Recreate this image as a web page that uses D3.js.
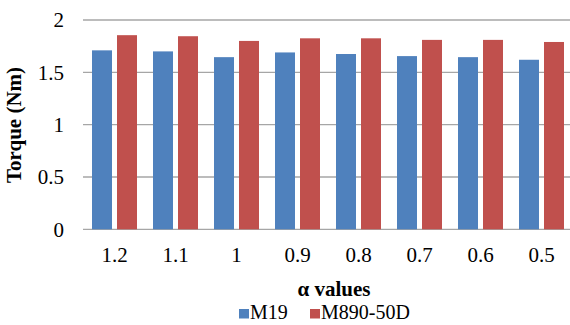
<!DOCTYPE html>
<html>
<head>
<meta charset="utf-8">
<script src="https://cdn.jsdelivr.net/npm/d3@7"></script>
<style>
  html, body { margin: 0; padding: 0; background: #fff; }
  svg { display: block; }
  text { font-family: "Liberation Serif", "Times New Roman", serif; fill: #000; }
</style>
</head>
<body>
<svg id="chart" width="570" height="325"></svg>
<script>
// Torque per alpha value for the two lamination steels
const categories = ["1.2", "1.1", "1", "0.9", "0.8", "0.7", "0.6", "0.5"];
const seriesNames = ["M19", "M890-50D"];
const m19 = [1.71, 1.70, 1.645, 1.69, 1.675, 1.655, 1.645, 1.62];
const m890 = [1.855, 1.845, 1.80, 1.825, 1.825, 1.81, 1.81, 1.79];
const yTicks = [0, 0.5, 1, 1.5, 2];
const colors = ["#4F81BD", "#C0504D"];

const svg = d3.select("#chart");
const W = 570;
const plotLeft = 84, plotBottom = 229.3, plotTop = 20;

const x = d3.scaleBand().domain(categories).range([plotLeft, 572]).paddingInner(0).paddingOuter(0);
const y = d3.scaleLinear().domain([0, 2]).range([plotBottom, plotTop]);

// Horizontal gridlines
svg.append("g")
  .selectAll("line")
  .data(yTicks)
  .join("line")
  .attr("x1", 83).attr("x2", W)
  .attr("y1", d => y(d)).attr("y2", d => y(d))
  .attr("stroke", "#A6A6A6")
  .attr("stroke-width", 1.3);

// Bars: each bar is 20/61 of the band, bars inside a group separated by a quarter bar width
const band = x.bandwidth();
const barW = band * 20 / 61;
const innerGap = barW * 0.25;
const groupW = barW * 2 + innerGap;
const series = [m19, m890];

series.forEach((vals, si) => {
  svg.append("g")
    .selectAll("rect")
    .data(vals.map((v, i) => ({ cat: categories[i], v })))
    .join("rect")
    .attr("x", d => x(d.cat) + (band - groupW) / 2 + si * (barW + innerGap))
    .attr("y", d => y(d.v))
    .attr("width", barW)
    .attr("height", d => y(0) - y(d.v))
    .attr("fill", colors[si]);
});

// Y axis labels
const yAxis = d3.axisLeft(y).tickValues(yTicks).tickFormat(d3.format("~g")).tickSize(0).tickPadding(0);
const yg = svg.append("g").attr("transform", "translate(64,0)").call(yAxis);
yg.select(".domain").remove();
yg.selectAll("text").style("font-family", "Liberation Serif, serif").style("font-size", "21px").attr("fill", "#000");

// X axis labels
const xAxis = d3.axisBottom(x).tickSize(0).tickPadding(0);
const xg = svg.append("g").attr("transform", `translate(0,${plotBottom})`).call(xAxis);
xg.select(".domain").remove();
xg.selectAll("text").style("font-family", "Liberation Serif, serif").style("font-size", "21px")
  .attr("fill", "#000").attr("dy", null).attr("y", 32.5);

// Axis titles
svg.append("text")
  .attr("x", 334).attr("y", 296)
  .attr("text-anchor", "middle")
  .style("font-size", "21px").style("font-weight", "bold")
  .text("α values");

svg.append("text")
  .attr("transform", `translate(21,125) rotate(-90)`)
  .attr("text-anchor", "middle")
  .style("font-size", "21px").style("font-weight", "bold")
  .text("Torque (Nm)");

// Legend
const legend = svg.append("g").attr("transform", "translate(239,319)");
const legendX = [0, 71];
seriesNames.forEach((name, i) => {
  const g = legend.append("g").attr("transform", `translate(${legendX[i]},0)`);
  g.append("rect").attr("x", 0).attr("y", -10).attr("width", 10).attr("height", 9.5).attr("fill", colors[i]);
  g.append("text").attr("x", 11).attr("y", 0).style("font-size", "20px").text(name);
});
</script>
</body>
</html>
